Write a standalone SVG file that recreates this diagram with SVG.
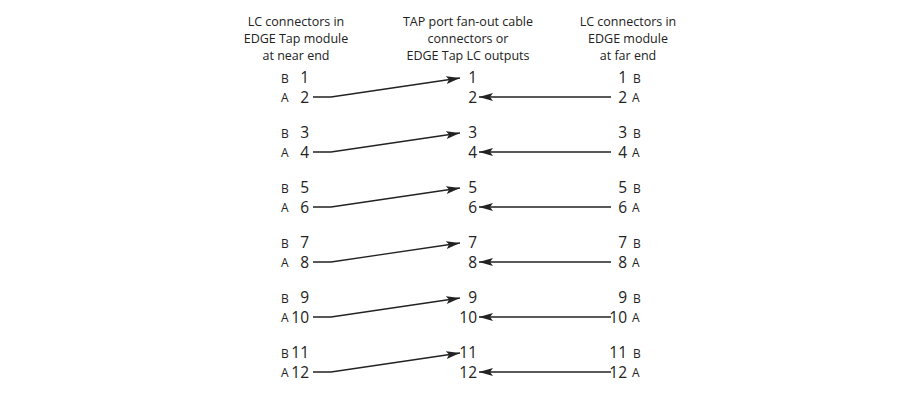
<svg xmlns="http://www.w3.org/2000/svg" width="920" height="400" viewBox="0 0 920 400">
<style>
text{font-family:"Open Sans","Liberation Sans",sans-serif;fill:#222}
.h{font-size:12.5px;text-anchor:middle}
.n{font-size:15.5px;text-anchor:end}
.l{font-size:12px}
.c{stroke:#222;stroke-width:1.3;fill:none}
</style>
<defs><marker id="ar" markerWidth="14" markerHeight="8" refX="14" refY="4" orient="auto" markerUnits="userSpaceOnUse"><path d="M0,0L14,4L0,8L3,4Z" fill="#222"/></marker></defs>
<rect width="920" height="400" fill="#fff"/>
<g id="headers">
<text class="h" x="296" y="26">LC connectors in</text><text class="h" x="296" y="43">EDGE Tap module</text><text class="h" x="296" y="60">at near end</text>
<text class="h" x="468" y="26">TAP port fan-out cable</text><text class="h" x="468" y="43">connectors or</text><text class="h" x="468" y="60">EDGE Tap LC outputs</text>
<text class="h" x="628" y="26">LC connectors in</text><text class="h" x="628" y="43">EDGE module</text><text class="h" x="628" y="60">at far end</text>
</g>
<g id="nodes">
<g id="pair1"><text class="l" x="281" y="83">B</text><text class="l" x="281" y="102">A</text><text class="n" x="309" y="83">1</text><text class="n" x="309" y="103">2</text><text class="n" x="477" y="83">1</text><text class="n" x="477" y="103">2</text><text class="n" x="627" y="83">1</text><text class="n" x="627" y="103">2</text><text class="l" x="633" y="83">B</text><text class="l" x="632" y="102">A</text></g>
<g id="pair2"><text class="l" x="281" y="138">B</text><text class="l" x="281" y="157">A</text><text class="n" x="309" y="138">3</text><text class="n" x="309" y="158">4</text><text class="n" x="477" y="138">3</text><text class="n" x="477" y="158">4</text><text class="n" x="627" y="138">3</text><text class="n" x="627" y="158">4</text><text class="l" x="633" y="138">B</text><text class="l" x="632" y="157">A</text></g>
<g id="pair3"><text class="l" x="281" y="193">B</text><text class="l" x="281" y="212">A</text><text class="n" x="309" y="193">5</text><text class="n" x="309" y="213">6</text><text class="n" x="477" y="193">5</text><text class="n" x="477" y="213">6</text><text class="n" x="627" y="193">5</text><text class="n" x="627" y="213">6</text><text class="l" x="633" y="193">B</text><text class="l" x="632" y="212">A</text></g>
<g id="pair4"><text class="l" x="281" y="248">B</text><text class="l" x="281" y="267">A</text><text class="n" x="309" y="248">7</text><text class="n" x="309" y="268">8</text><text class="n" x="477" y="248">7</text><text class="n" x="477" y="268">8</text><text class="n" x="627" y="248">7</text><text class="n" x="627" y="268">8</text><text class="l" x="633" y="248">B</text><text class="l" x="632" y="267">A</text></g>
<g id="pair5"><text class="l" x="281" y="303">B</text><text class="l" x="281" y="322">A</text><text class="n" x="309" y="303">9</text><text class="n" x="309" y="323">10</text><text class="n" x="477" y="303">9</text><text class="n" x="477" y="323">10</text><text class="n" x="627" y="303">9</text><text class="n" x="627" y="323">10</text><text class="l" x="633" y="303">B</text><text class="l" x="632" y="322">A</text></g>
<g id="pair6"><text class="l" x="281" y="358">B</text><text class="l" x="281" y="377">A</text><text class="n" x="309" y="358">11</text><text class="n" x="309" y="378">12</text><text class="n" x="477" y="358">11</text><text class="n" x="477" y="378">12</text><text class="n" x="627" y="358">11</text><text class="n" x="627" y="378">12</text><text class="l" x="633" y="358">B</text><text class="l" x="632" y="377">A</text></g>
</g>
<g id="connectors">
<path class="c" d="M313,97H331L460,78" marker-end="url(#ar)"/><path class="c" d="M611,97H479" marker-end="url(#ar)"/>
<path class="c" d="M313,152H331L460,133" marker-end="url(#ar)"/><path class="c" d="M611,152H479" marker-end="url(#ar)"/>
<path class="c" d="M313,207H331L460,188" marker-end="url(#ar)"/><path class="c" d="M611,207H479" marker-end="url(#ar)"/>
<path class="c" d="M313,262H331L460,243" marker-end="url(#ar)"/><path class="c" d="M611,262H479" marker-end="url(#ar)"/>
<path class="c" d="M313,317H331L460,298" marker-end="url(#ar)"/><path class="c" d="M611,317H479" marker-end="url(#ar)"/>
<path class="c" d="M313,372H331L460,353" marker-end="url(#ar)"/><path class="c" d="M611,372H479" marker-end="url(#ar)"/>
</g>
</svg>
